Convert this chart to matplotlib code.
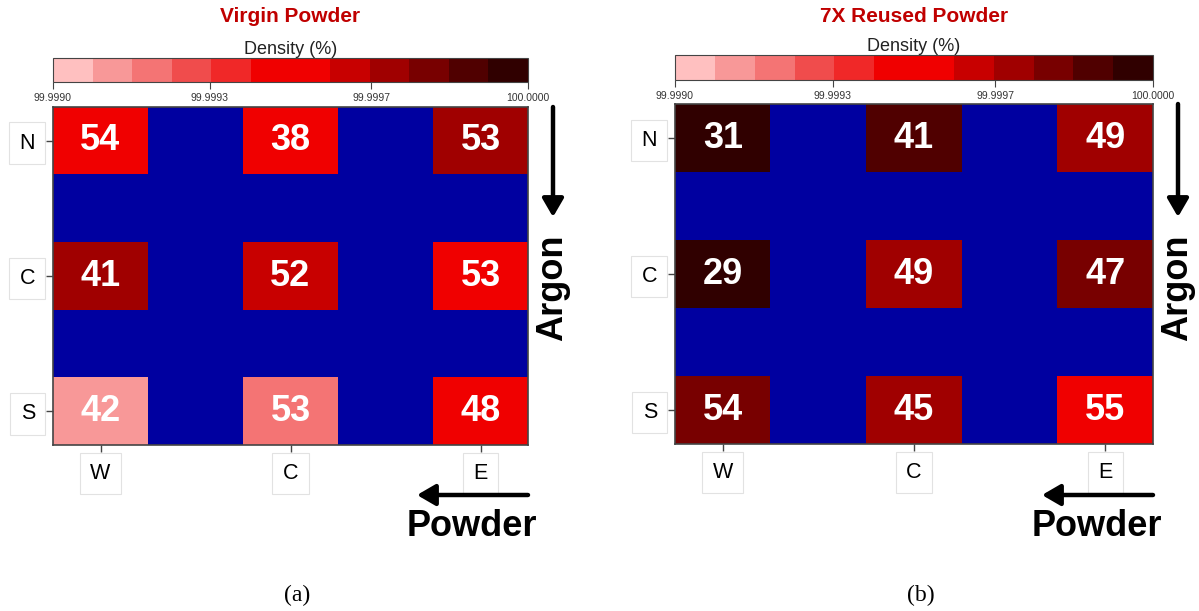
import numpy as np
import matplotlib.pyplot as plt
from matplotlib.colors import ListedColormap, BoundaryNorm

plt.rcParams['font.family'] = ['Liberation Sans', 'DejaVu Sans']

# 位置标签
rows = ['N', 'C', 'S']
cols = ['W', 'C', 'E']

# 密度 (%)，行 N/C/S，列 W/C/E
virgin_density = [[99.99946, 99.99946, 99.99971],
                  [99.99971, 99.99963, 99.99946],
                  [99.99913, 99.99921, 99.99946]]
virgin_label = [[54, 38, 53],
                [41, 52, 53],
                [42, 53, 48]]

reused_density = [[99.99996, 99.99988, 99.99971],
                  [99.99996, 99.99971, 99.99979],
                  [99.99979, 99.99971, 99.99946]]
reused_label = [[31, 41, 49],
                [29, 49, 47],
                [54, 45, 55]]

cbar_ticks = [99.9990, 99.99933, 99.99967, 100.0000]
level_colors = ['#FFC0C0', '#F89898', '#F47474', '#F04C4C', '#F02828', '#F00000',
                '#F00000', '#C80000', '#A00000', '#780000', '#500000', '#300000']

W, H = 1199, 611
cmap = ListedColormap(level_colors)
cmap.set_bad('#0000A0')
norm = BoundaryNorm(np.linspace(99.999, 100.0, 13), cmap.N)


def fx(px):
    return px / W


def fy(py):
    return 1 - py / H


fig = plt.figure(figsize=(W / 100, H / 100), dpi=100)

box = dict(boxstyle='square,pad=0.48', fc='white', ec='#e2e2e2', lw=0.8)

panels = [
    ('Virgin Powder', virgin_density, virgin_label, (53, 528, 107, 445), (58, 82), '(a)'),
    ('7X Reused Powder', reused_density, reused_label, (675, 1153, 104, 444), (55, 80), '(b)'),
]

for title, dens, labs, (x0, x1, y0, y1), (c0, c1), tag in panels:
    ax = fig.add_axes([fx(x0), fy(y1), (x1 - x0) / W, (y1 - y0) / H])
    cax = fig.add_axes([fx(x0), fy(c1), (x1 - x0) / W, (c1 - c0) / H])

    grid = np.full((5, 5), np.nan)
    grid[::2, ::2] = np.array(dens)
    im = ax.imshow(grid, cmap=cmap, norm=norm, aspect='auto')

    for i in range(3):
        for j in range(3):
            ax.text(2 * j, 2 * i, str(labs[i][j]), ha='center', va='center',
                    color='white', fontsize=26, fontweight='bold')

    ax.set_xticks([0, 2, 4])
    ax.set_xticklabels(cols, fontsize=15.5)
    ax.set_yticks([0, 2, 4])
    ax.set_yticklabels(rows, fontsize=15.5)
    ax.tick_params(length=5, width=1, color='#444444', pad=8)
    for t in ax.get_xticklabels() + ax.get_yticklabels():
        t.set_bbox(box)
    for s in ax.spines.values():
        s.set_color('#444444')
        s.set_linewidth(1.2)

    cb = fig.colorbar(im, cax=cax, orientation='horizontal', ticks=cbar_ticks)
    cb.ax.minorticks_off()
    cb.ax.set_xticklabels(['%.4f' % v for v in cbar_ticks], fontsize=7.5, color='#333333')
    cb.ax.tick_params(length=5, width=0.8, color='#444444', pad=3)
    cb.outline.set_edgecolor('#444444')
    cb.outline.set_linewidth(0.8)
    cax.set_title('Density (%)', fontsize=13, pad=3, color='#222222')

    xc = (x0 + x1) / 2
    fig.text(fx(xc), fy(17), title, ha='center', va='center', color='#C00000',
             fontsize=15, fontweight='bold')

    # 箭头: Argon 向下, Powder 向左
    arrow = dict(arrowstyle='-|>,head_length=0.55,head_width=0.32', lw=3.2,
                 color='black', mutation_scale=20, shrinkA=0, shrinkB=0)
    ax.annotate('', xy=(fx(x1 + 25), fy(217)), xytext=(fx(x1 + 25), fy(y0)),
                xycoords='figure fraction', textcoords='figure fraction', arrowprops=arrow)
    fig.text(fx(x1 + 25), fy(288), 'Argon', rotation=90, ha='center', va='center',
             fontsize=26, fontweight='bold')
    ax.annotate('', xy=(fx(x1 - 111), fy(495)), xytext=(fx(x1), fy(495)),
                xycoords='figure fraction', textcoords='figure fraction', arrowprops=arrow)
    fig.text(fx(x1 - 56), fy(527), 'Powder', ha='center', va='center',
             fontsize=26, fontweight='bold')

    fig.text(fx(xc + 7), fy(595), tag, ha='center', va='center', fontsize=17,
             family='Liberation Serif')

fig.savefig('out.png', dpi=100)
